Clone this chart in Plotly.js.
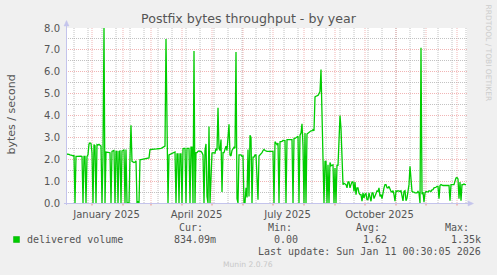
<!DOCTYPE html>
<html><head><meta charset="utf-8">
<script src="https://cdn.plot.ly/plotly-3.0.1.min.js"></script>
<style>html,body{margin:0;padding:0;background:#F0F0F0;}#chart{width:497px;height:275px;}</style>
</head><body><div id="chart"></div>
<script>
// ---- data (daily values, starting 2024-12-06) ----
var startDate = '2024-12-06';
var deliveredVolume = [
2.24,2.24,2.24,2.22,2.2,2.2,2.18,2.16,2.16,0,
2.13,2.13,2.14,2.13,2.13,2.14,2.13,0,2.13,2.13,
0,2.13,2.2,2.7,2.75,2.72,2.3,0,2.67,2.62,
0,2.67,2.65,2.68,2.64,2.6,0,2.15,8.0,0,
2.33,2.33,2.32,2.3,2.3,0,2.36,2.38,2.4,0,
2.36,2.36,0,2.36,2.38,0,2.38,2.4,2.44,0,
2.44,0,0,0,2.1,3.55,1.9,1.87,1.85,1.87,
1.93,0,0.08,0,1.98,1.98,1.99,2.0,2.0,2.01,
2.01,2.02,2.03,2.06,2.44,2.44,2.45,2.45,2.46,2.46,
2.47,2.47,2.48,2.48,2.48,2.5,2.52,2.55,2.58,2.6,
7.5,2.3,0,2.2,2.22,2.25,2.28,2.3,2.33,2.33,
0,2.24,2.24,0,2.24,2.24,0,2.48,2.5,2.5,
0,2.5,2.5,2.5,0,2.55,2.55,0,6.95,0,
2.3,2.3,2.36,2.38,2.36,2.36,2.3,2.2,0,2.4,
2.7,0.3,0,3.5,0,1.0,2.28,2.3,2.3,2.28,
2.5,2.4,4.35,2.5,2.4,2.9,0.5,2.3,2.3,2.5,
2.6,2.4,2.9,3.6,2.2,2.15,2.4,2.5,2.55,2.5,
6.9,0.2,0,2.2,2.2,2.2,2.13,2.15,0,0,
0.7,0.25,2.45,0.3,3.1,3.0,0,2.1,2.1,2.2,
2.2,1.0,0.15,2.15,2.2,2.25,2.3,2.4,2.45,2.4,
2.36,2.36,2.36,2.36,2.36,2.36,2.36,2.36,0,2.8,
2.74,2.67,2.74,0,2.8,2.8,2.82,2.86,2.85,2.85,
0,2.9,2.9,2.9,2.9,2.9,2.9,0,2.95,2.95,
3.0,3.05,3.05,0,3.1,3.2,3.62,2.6,0,3.2,
0,3.15,3.2,3.2,3.25,3.3,3.3,3.35,3.3,4.85,
4.88,4.9,4.92,5.0,5.1,6.1,4.0,3.0,0,1.9,
1.9,0,1.75,0,1.85,1.7,1.75,1.75,0,1.6,
0,1.75,1.7,2.8,4.0,3.4,1.5,0.84,0.9,0.85,
0.84,0.69,0.96,0.96,0.69,0.84,0.96,0.96,0.53,0.96,
0.38,0.69,0.69,0.46,0.38,0.38,0.08,0.46,0.23,0.4,
0.43,0.15,0.15,0.46,0.3,0.08,0.46,0.46,0.2,0.3,
0.4,0.55,0.53,0.69,0.3,0.38,0.2,0.53,0.69,0.84,
0.84,0.7,0.69,0.76,0.6,0.53,0.5,0.56,0.38,0.08,
0.55,0.53,0.56,0.53,0.53,0.56,0.3,0.1,0.53,0.56,
0.1,0.23,0.53,0.84,1.68,0.9,0.53,0.5,0.5,0.46,
0.46,0.46,0.53,0.46,0,7.1,0.4,0.5,0.05,0.46,
0.53,0.5,0.5,0.56,0.53,0.53,0.6,0.61,0.69,0.7,
0.72,0.76,0.76,0.2,0.8,0.84,0.8,0.8,0.8,0.8,
0.8,0.8,0.8,0.8,0.1,0.84,0.84,0.84,0.84,1.0,
1.14,1.16,1.1,0.2,0.96,0.1,0.84,0.84,0.87,0.84,
0.84
];
var xTickVals = ['2025-01-15 12:00','2025-04-15 12:00','2025-07-15 12:00','2025-10-15 12:00'];
var xTickText = ['January 2025','April 2025','July 2025','October 2025'];
var seriesName = 'delivered volume';
var statLabels = ['Cur:','Min:','Avg:','Max:'];
var statValues = ['834.09m','0.00','1.62','1.35k'];
var lastUpdate = 'Last update: Sun Jan 11 00:30:05 2026';

// ---- build dates ----
function isoDay(ms){return new Date(ms).toISOString().slice(0,10);}
var t0 = Date.parse(startDate+'T00:00:00Z');
var DAY = 86400000;
var xDates = deliveredVolume.map(function(v,i){return isoDay(t0+i*DAY);});

// ---- geometry helpers (pixel -> paper) ----
var L=66, R=467, T=28, B=203, W=497, H=275;
function px(x){return (x-L)/(R-L);}
function py(y){return (B-y)/(B-T);}

var RED='rgba(230,120,120,0.55)', GREY='rgba(170,170,170,0.7)', AXIS='#C4C4EC';
var shapes=[];
// minor vertical grid every 14 days
for(var t=Date.parse('2024-12-14T00:00:00Z'); t<Date.parse('2026-01-11T00:00:00Z'); t+=14*DAY){
  shapes.push({type:'line',xref:'x',yref:'paper',x0:isoDay(t),x1:isoDay(t),y0:0,y1:1,layer:'below',
    line:{color:GREY,width:1,dash:'1px,1px'}});
}
// major vertical grid at month starts
for(var m=0;m<=12;m++){
  var d=new Date(Date.UTC(2025,m,1)); var s=isoDay(d.getTime());
  shapes.push({type:'line',xref:'x',yref:'paper',x0:s,x1:s,y0:0,y1:1,layer:'below',
    line:{color:RED,width:1,dash:'1px,1px'}});
  shapes.push({type:'line',xref:'x',yref:'paper',x0:s,x1:s,y0:0,y1:py(205.5),layer:'above',
    line:{color:'rgba(230,110,110,0.8)',width:1}});
}
// axis lines and arrows
shapes.push({type:'line',xref:'paper',yref:'paper',x0:px(66.5),x1:px(66.5),y0:py(205),y1:py(25),line:{color:AXIS,width:1}});
shapes.push({type:'line',xref:'paper',yref:'paper',x0:px(64),x1:px(469),y0:py(203.5),y1:py(203.5),line:{color:AXIS,width:1}});
shapes.push({type:'path',xref:'paper',yref:'paper',
  path:'M '+px(64)+' '+py(26)+' L '+px(69)+' '+py(26)+' L '+px(66.5)+' '+py(20.5)+' Z',
  fillcolor:AXIS,line:{color:AXIS,width:0.5}});
shapes.push({type:'path',xref:'paper',yref:'paper',
  path:'M '+px(468)+' '+py(201)+' L '+px(468)+' '+py(206)+' L '+px(473.5)+' '+py(203.5)+' Z',
  fillcolor:AXIS,line:{color:AXIS,width:0.5}});
// legend swatch
shapes.push({type:'rect',xref:'paper',yref:'paper',x0:px(13.5),x1:px(19.5),y0:py(242.5),y1:py(236.5),
  fillcolor:'#00CC00',line:{color:'#00B000',width:0.5}});

var MONO='"DejaVu Sans Mono", monospace', SANS='"DejaVu Sans", sans-serif', TXT='#555555';
var ann=[];
function A(text,x,y,xa,opt){
  var o={text:text,xref:'paper',yref:'paper',x:px(x),y:py(y),xanchor:xa,yanchor:'middle',
    showarrow:false,borderpad:0,font:{family:MONO,size:10,color:TXT}};
  if(opt){for(var k in opt){o[k]=opt[k];}}
  ann.push(o);
}
A(seriesName,26,239.5,'left');
var labelRight=[203.5,292.7,381,470];
var valueRight=[216.7,299.3,387.7,482.3];
for(var i=0;i<4;i++){
  A(statLabels[i],labelRight[i],227.5,'right');
  A(statValues[i],valueRight[i],239.5,'right');
}
A(lastUpdate,482.3,251.5,'right');
A('Munin 2.0.76',248,264,'center',{font:{family:SANS,size:7.6,color:'#C8C8C8'}});
A('RRDTOOL / TOBI OETIKER',488.5,53,'center',{textangle:90,font:{family:SANS,size:7.5,color:'#CCCCCC'}});
A('bytes / second',10.5,114,'center',{textangle:-90,font:{family:SANS,size:11,color:TXT}});

var trace={x:xDates,y:deliveredVolume,type:'scatter',mode:'lines',name:seriesName,
  line:{color:'#00CC00',width:1.3},hoverinfo:'skip'};

var layout={
  width:W,height:H,margin:{l:L,r:W-R,t:T,b:H-B,pad:0},
  paper_bgcolor:'#F0F0F0',plot_bgcolor:'#FFFFFF',showlegend:false,
  title:{text:'Postfix bytes throughput - by year',x:0.5,xref:'container',xanchor:'center',
    y:1-19/H,yref:'container',yanchor:'middle',font:{family:SANS,size:12.6,color:TXT}},
  xaxis:{type:'date',range:['2024-12-06','2026-01-11'],tickmode:'array',tickvals:xTickVals,ticktext:xTickText,
    showgrid:false,zeroline:false,showline:false,ticks:'',ticklabelstandoff:4,
    tickfont:{family:SANS,size:10,color:TXT},fixedrange:true},
  yaxis:{range:[0,8],dtick:1,tick0:0,tickformat:'.1f',showgrid:true,gridcolor:RED,griddash:'1px,1px',gridwidth:1,
    minor:{dtick:0.5,tick0:0,showgrid:true,gridcolor:GREY,griddash:'1px,1px',gridwidth:1},
    zeroline:false,showline:false,ticks:'',ticklabelstandoff:5,
    tickfont:{family:SANS,size:10,color:TXT},fixedrange:true},
  shapes:shapes,annotations:ann
};
Plotly.newPlot('chart',[trace],layout,{staticPlot:true,displayModeBar:false});
</script></body></html>
